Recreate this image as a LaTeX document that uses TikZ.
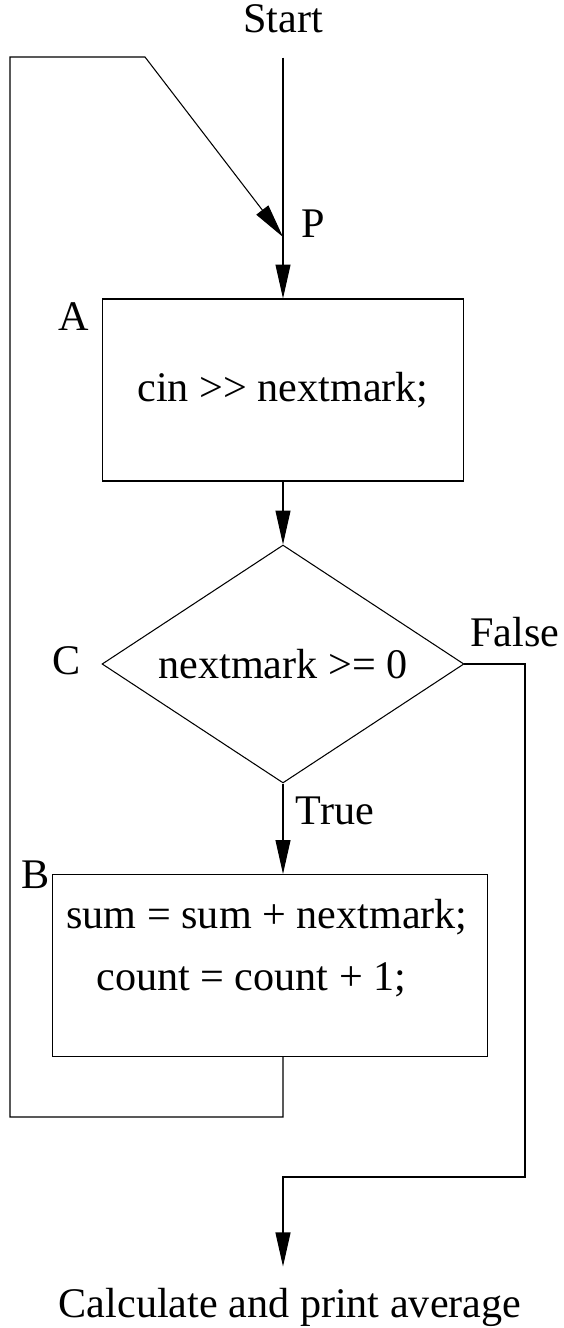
\documentclass[tikz,border=0pt]{standalone}
\usepackage{fontspec}
\setmainfont{Liberation Serif}
\usetikzlibrary{positioning, shapes.geometric, arrows.meta}

\begin{document}
\begin{tikzpicture}[
  x=0.02cm, y=-0.02cm,
  font=\fontsize{24}{35}\selectfont,
  stepbox/.style={draw, line width=0.6pt, minimum width=7.24cm,
                  minimum height=3.64cm, inner sep=0pt},
  decision/.style={draw, diamond, aspect=1.52, line width=0.6pt,
                   minimum width=7.24cm, minimum height=4.76cm, inner sep=0pt},
  tag/.style={inner sep=0pt},
  flow/.style={line width=0.6pt, -{Triangle[length=0.68cm, width=0.3cm]}}
]
  \useasboundingbox (0,0) rectangle (564,1328);

  \node[tag]      (start)  at (283,19)    {Start};
  \node[stepbox]  (a)      at (283,390)   {cin >{}> nextmark;};
  \node[decision] (c)      at (283,664)   {nextmark >= 0};
  \node[stepbox, minimum width=8.72cm] (b) at (270,965.5) {};
  \node[tag, align=left] (btext) at (267,948)
    {sum = sum + nextmark;\\\hspace{0.6cm}count = count + 1;};
  \node[tag]      (result) at (290,1307)  {Calculate and print average};

  \node[tag] (plabel) at (313,224) {P};
  \node[tag] (alabel) at (74,317)  {A};
  \node[tag] (clabel) at (67,661)  {C};
  \node[tag] (flabel) at (515,632) {False};
  \node[tag] (tlabel) at (335,811) {True};
  \node[tag] (blabel) at (36,875)  {B};

  \coordinate (p)     at (283,237);
  \coordinate (kink)  at (145,57);
  \coordinate (ltop)  at (10,57);
  \coordinate (lbot)  at (10,1117);
  \coordinate (fturn) at (525,1177);

  \draw[flow, shorten <=0.48cm] (start.south) -- (a.north);
  \draw[flow] (a.south) -- (c.north);
  \draw[flow] (c.south) -- (c.south |- b.north);
  \draw[flow] (c.south |- b.south) |- (lbot) -- (ltop) -- (kink) -- (p);
  \draw[flow, shorten >=0.42cm] (c.east) -| (fturn) -| (c.south |- result.north);
\end{tikzpicture}
\end{document}
